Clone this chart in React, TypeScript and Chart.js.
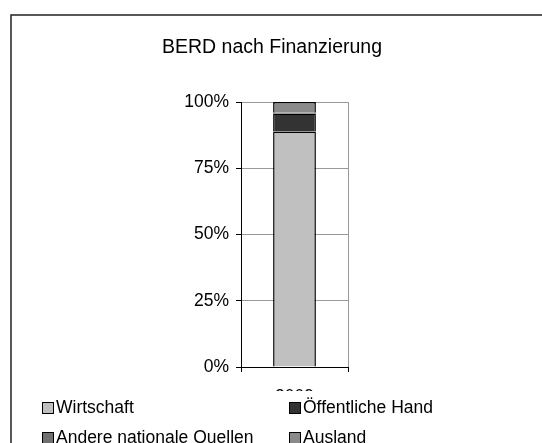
import React, { useEffect, useRef } from "react";
import { Chart, registerables } from "chart.js";

Chart.register(...registerables);

const categories = ["2009"];
const seriesNames = ["Wirtschaft", "Öffentliche Hand", "Andere nationale Quellen", "Ausland"];
const wirtschaft = [88.9];
const oeffentlicheHand = [6.8];
const andereQuellen = [0.2];
const ausland = [4.1];
const seriesColors = ["#c0c0c0", "#333333", "#707070", "#8a8a8a"];
const yTicks = [0, 25, 50, 75, 100];
const chartTitle = "BERD nach Finanzierung";

const FONT = "'Liberation Sans', Arial, sans-serif";

const framePlugin = {
  id: "frame",
  beforeDraw(chart: any) {
    const ctx = chart.ctx;
    ctx.save();
    ctx.fillStyle = "#fff";
    ctx.fillRect(0, 0, chart.width, chart.height);
    ctx.strokeStyle = "#222";
    ctx.lineWidth = 1.5;
    ctx.strokeRect(11, 15, 800, 800);
    ctx.fillStyle = "#000";
    ctx.font = `19.5px ${FONT}`;
    ctx.textAlign = "center";
    ctx.textBaseline = "middle";
    ctx.fillText(chartTitle, 272, 48);
    ctx.restore();
  },
};

const legendPlugin = {
  id: "customLegend",
  afterDraw(chart: any) {
    const ctx = chart.ctx;
    ctx.save();
    ctx.fillStyle = "#fff";
    ctx.fillRect(13, 391, chart.width, chart.height - 391);
    const pos = [
      [42, 402],
      [289, 402],
      [42, 432],
      [289, 432],
    ];
    chart.data.datasets.forEach((ds: any, i: number) => {
      const [x, y] = pos[i];
      ctx.fillStyle = ds.backgroundColor;
      ctx.fillRect(x, y, 11, 11);
      ctx.strokeStyle = "#000";
      ctx.lineWidth = 1;
      ctx.strokeRect(x + 0.5, y + 0.5, 11, 11);
      ctx.fillStyle = "#000";
      ctx.font = `17.5px ${FONT}`;
      ctx.textBaseline = "middle";
      ctx.textAlign = "left";
      ctx.fillText(ds.label, x + 14, y + 6.5);
    });
    ctx.restore();
  },
};

export default function App() {
  const ref = useRef<HTMLCanvasElement>(null);
  useEffect(() => {
    if (!ref.current) return;
    const values = [wirtschaft, oeffentlicheHand, andereQuellen, ausland];
    const chart = new Chart(ref.current, {
      type: "bar",
      data: {
        labels: categories,
        datasets: seriesNames.map((name, i) => ({
          label: name,
          data: values[i],
          backgroundColor: seriesColors[i],
          borderColor: "#000",
          borderWidth: 1.5,
          barPercentage: 0.4,
          categoryPercentage: 1,
        })),
      },
      options: {
        responsive: false,
        animation: false,
        layout: { padding: { left: 0, right: 194, top: 102, bottom: 0 } },
        plugins: {
          legend: { display: false },
          tooltip: { enabled: false },
          title: { display: false },
        },
        scales: {
          x: {
            stacked: true,
            offset: true,
            border: { color: "#000", width: 1 },
            grid: { color: "#999", tickColor: "#000", tickLength: 5, offset: true },
            ticks: { color: "#000", padding: 15, font: { family: FONT, size: 17.5 } },
            afterFit: (s: any) => {
              s.height = 76;
            },
          },
          y: {
            stacked: true,
            min: 0,
            max: 100,
            afterBuildTicks: (s: any) => {
              s.ticks = yTicks.map((v) => ({ value: v }));
            },
            border: { color: "#000", width: 1 },
            grid: { color: "#999", tickColor: "#000", tickLength: 5 },
            ticks: {
              color: "#000",
              padding: 7,
              font: { family: FONT, size: 17.5 },
              callback: (v: any) => v + "%",
            },
            afterFit: (s: any) => {
              s.width = 241;
            },
          },
        },
      },
      plugins: [framePlugin, legendPlugin],
    });
    return () => chart.destroy();
  }, []);
  return (
    <div style={{ position: "fixed", left: 0, top: 0, width: 542, height: 443 }}>
      <canvas ref={ref} width={542} height={443} style={{ display: "block" }} />
    </div>
  );
}
